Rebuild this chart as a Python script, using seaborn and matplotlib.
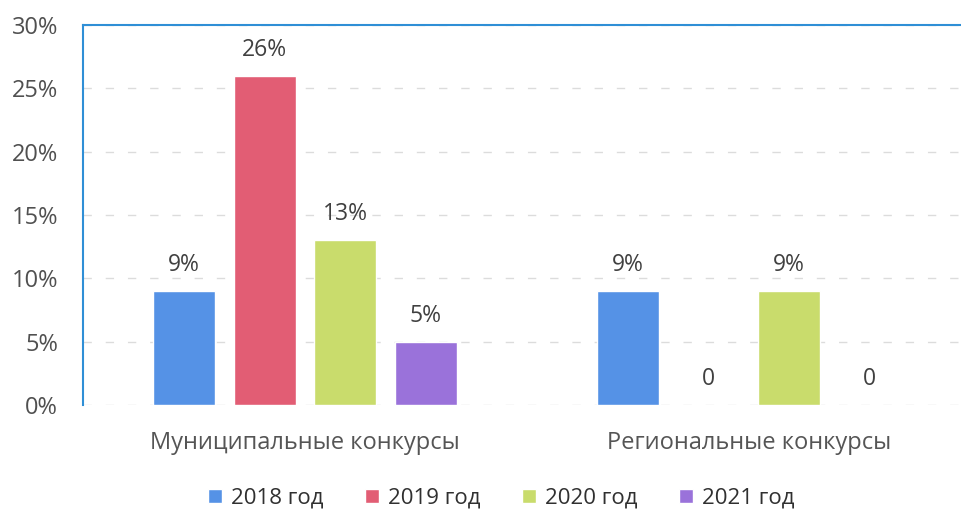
import pandas as pd
import matplotlib.pyplot as plt
import seaborn as sns

# данные
categories = ["Муниципальные конкурсы", "Региональные конкурсы"]
years = ["2018 год", "2019 год", "2020 год", "2021 год"]
values_mun = [9, 26, 13, 5]
values_reg = [9, 0, 9, 0]
colors = ["#5592e6", "#e25d74", "#c9dc6c", "#9a72da"]

rows = []
for cat, vals in zip(categories, [values_mun, values_reg]):
    for y, v in zip(years, vals):
        rows.append({"cat": cat, "year": y, "val": v})
df = pd.DataFrame(rows)

sns.set_theme(style="white")
plt.rcParams['font.family'] = ['Open Sans', 'DejaVu Sans']
text_col = "#404040"

fig = plt.figure(figsize=(9.61, 5.13), dpi=100)
ax = fig.add_axes([83 / 961, 1 - 405 / 513, 888 / 961, 380 / 513])

sns.barplot(data=df, x="cat", y="val", hue="year", palette=colors,
            width=0.725, gap=0.23, saturation=1, ax=ax, legend=True)

ax.set_xlim(-0.5, 1.5)
ax.set_ylim(0, 30)
ax.set_yticks(range(0, 31, 5))
ax.set_yticklabels([f"{t}%" for t in range(0, 31, 5)], fontsize=17, color="#505050")
ax.tick_params(axis="x", labelsize=17, labelcolor="#555555", pad=19, length=0)
ax.tick_params(axis="y", length=0, pad=18)
ax.set_xlabel("")
ax.set_ylabel("")

ax.yaxis.grid(True, linestyle=(0, (6, 10)), color="#dcdcdc", linewidth=1)
ax.set_axisbelow(True)
for side in ["bottom", "right"]:
    ax.spines[side].set_visible(False)
for side in ["left", "top"]:
    ax.spines[side].set_color("#2f8fd6")
    ax.spines[side].set_linewidth(1.5)

# подписи значений
for cont in ax.containers:
    labels = [f"{int(b.get_height())}%" if b.get_height() > 0 else "0" for b in cont]
    ax.bar_label(cont, labels=labels, padding=10, fontsize=16.5, color=text_col)
# нули чуть выше оси
for t in ax.texts:
    if t.get_text() == "0":
        t.set_position((0, 10))

leg = ax.legend(loc="upper center", bbox_to_anchor=(0.471, -0.165),
                ncol=4, frameon=False, fontsize=16, handlelength=0.6, handleheight=0.6,
                handletextpad=0.4, columnspacing=1.9)
for txt in leg.get_texts():
    txt.set_color("#303030")

fig.savefig("out.png", dpi=100)
